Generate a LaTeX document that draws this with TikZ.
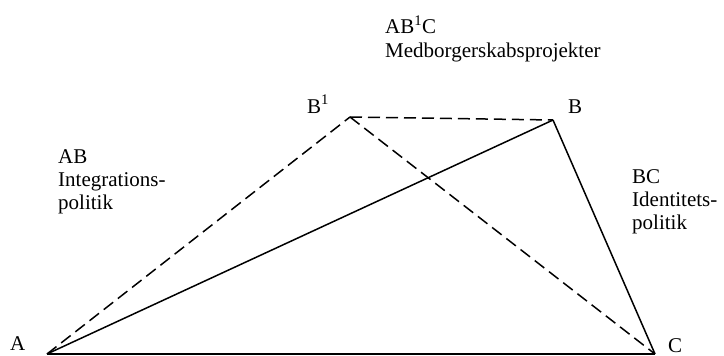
\documentclass[tikz,border=0pt]{standalone}
\usepackage{fontspec}
\setmainfont{Liberation Serif}
\begin{document}
\begin{tikzpicture}[x=1pt,y=-1pt,
  lbl/.style={inner sep=0pt,anchor=base west,font=\fontsize{21}{23}\selectfont},
  edge/.style={line width=1.5pt},
  dedge/.style={line width=1.5pt,dash pattern=on 12pt off 6pt}]
\useasboundingbox (0,0) rectangle (724,356);
\coordinate (A) at (47,354);
\coordinate (B1) at (350,117);
\coordinate (B) at (553,120);
\coordinate (C) at (655,354);
\draw[edge] (A) -- (C);
\draw[edge] (A) -- (B);
\draw[edge] (B) -- (C);
\draw[dedge] (A) -- (B1);
\draw[dedge] (B1) -- (B);
\draw[dedge] (B1) -- (C);
\node[lbl] (la) at (10,350) {A};
\node[lbl] (lc) at (668,352) {C};
\node[lbl] (lb1) at (307,113) {B\raisebox{1pt}{\textsuperscript{1}}};
\node[lbl] (lb) at (568,113) {B};
\node[lbl] (t1) at (385,34) {AB\raisebox{1pt}{\textsuperscript{1}}C};
\node[lbl] (t2) at (385,57) {Medborgerskabsprojekter};
\node[lbl] (l1) at (58,163) {AB};
\node[lbl] (l2) at (58,186) {Integrations-};
\node[lbl] (l3) at (58,209) {politik};
\node[lbl] (r1) at (632,183) {BC};
\node[lbl] (r2) at (632,206) {Identitets-};
\node[lbl] (r3) at (632,229) {politik};
\end{tikzpicture}
\end{document}
